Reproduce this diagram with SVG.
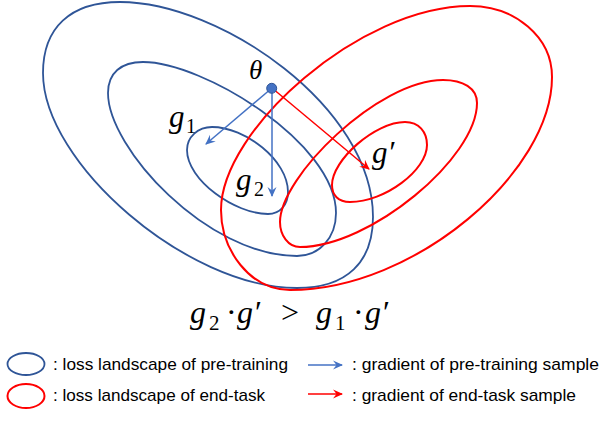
<svg xmlns="http://www.w3.org/2000/svg" width="600" height="444" viewBox="0 0 600 444">
<style>
.blue{fill:none;stroke:#2F5597;stroke-width:1.8}
.red{fill:none;stroke:#FF0000;stroke-width:2}
.ab{stroke:#4472C4;stroke-width:1.5;fill:none}
.ar{stroke:#FF0000;stroke-width:1.5;fill:none}
.math{font-family:"Liberation Serif","DejaVu Serif",serif;font-style:italic;fill:#000}
.up{font-family:"Liberation Serif","DejaVu Serif",serif;font-style:normal;fill:#000}
.leg{font-family:"Liberation Sans",Arial,sans-serif;font-size:17px;fill:#000}
</style>
<defs>
<marker id="hb" viewBox="0 0 10 10" refX="9" refY="5" markerWidth="10" markerHeight="10" orient="auto" markerUnits="userSpaceOnUse">
<path d="M0,0.5 L10,5 L0,9.5 L3.5,5 Z" fill="#4472C4"/>
</marker>
<marker id="hr" viewBox="0 0 10 10" refX="9" refY="5" markerWidth="10" markerHeight="10" orient="auto" markerUnits="userSpaceOnUse">
<path d="M0,0.5 L10,5 L0,9.5 L3.5,5 Z" fill="#FF0000"/>
</marker>
</defs>
<rect width="600" height="444" fill="#fff"/>
<g id="blue-outer"><path class="blue" d="M43,73 C43,28 70,2 120,2 C220,2 373,107 373,217 C373,262 347,288 297,288 C187,288 43,163 43,73 Z"/></g>
<g id="blue-middle"><path class="blue" d="M108,93 C108,73 121,62 143,62 C203,62 336,143 336,213 C336,238 319,256 297,256 C207,256 108,148 108,93 Z"/></g>
<g id="blue-inner"><path class="blue" d="M187,150 C187,137 198,127 212,127 C245,127 288,160 288,192 C288,205 280,214 268,214 C235,214 187,180 187,150 Z"/></g>
<g id="red-outer"><path class="red" d="M470,6 C515,6 552,37 552,77 C552,172 415,290 290,290 C250,290 221,250 221,210 C221,130 360,6 470,6 Z"/></g>
<g id="red-middle"><path class="red" d="M443,80 C463,80 477,88 477,103 C477,158 370,247 300,247 C288,247 280,235 280,222 C280,177 378,80 443,80 Z"/></g>
<g id="red-inner"><path class="red" d="M405,122 C419,122 427,132 427,145 C427,170 385,202 350,202 C338,202 332,195 332,185 C332,160 375,122 405,122 Z"/></g>
<g id="connectors">
<line class="ab" x1="272" y1="88" x2="206" y2="144" marker-end="url(#hb)"/>
<line class="ab" x1="272" y1="88" x2="272" y2="196" marker-end="url(#hb)"/>
<line class="ar" x1="272" y1="88" x2="369" y2="169" marker-end="url(#hr)"/>
</g>
<g id="theta">
<circle cx="271.7" cy="88.3" r="5" fill="#4472C4" stroke="#2F5597" stroke-width="1"/>
<text class="math" x="249" y="79" font-size="27">θ</text>
</g>
<g id="g1-label"><text class="math" x="169" y="127" font-size="31">g</text><text class="up" x="186" y="133" font-size="20">1</text></g>
<g id="g2-label"><text class="math" x="236" y="190" font-size="31">g</text><text class="up" x="254" y="196" font-size="20">2</text></g>
<g id="gp-label"><text class="math" x="372" y="163" font-size="31">g′</text></g>
<g id="formula">
<text class="math" font-size="32" y="323"><tspan x="190">g</tspan><tspan class="up" x="209" y="330" font-size="21" font-style="normal">2</tspan><tspan x="226" y="323" font-style="normal">·</tspan><tspan x="237">g′</tspan><tspan x="281" font-style="normal">&gt;</tspan><tspan x="316">g</tspan><tspan x="335" y="330" font-size="21" font-style="normal">1</tspan><tspan x="353" y="323" font-style="normal">·</tspan><tspan x="365">g′</tspan></text>
</g>
<g id="legend">
<ellipse cx="26" cy="364" rx="18.5" ry="11" class="blue"/>
<text class="leg" x="53" y="370" textLength="235" lengthAdjust="spacingAndGlyphs">: loss landscape of pre-training</text>
<ellipse cx="26" cy="396" rx="18.5" ry="12" class="red"/>
<text class="leg" x="53" y="401" textLength="212" lengthAdjust="spacingAndGlyphs">: loss landscape of end-task</text>
<line class="ab" x1="308" y1="365" x2="342" y2="365" marker-end="url(#hb)"/>
<text class="leg" x="352" y="370" textLength="247" lengthAdjust="spacingAndGlyphs">: gradient of pre-training sample</text>
<line class="ar" x1="308" y1="394" x2="342" y2="394" marker-end="url(#hr)"/>
<text class="leg" x="352" y="401" textLength="224" lengthAdjust="spacingAndGlyphs">: gradient of end-task sample</text>
</g>
</svg>
